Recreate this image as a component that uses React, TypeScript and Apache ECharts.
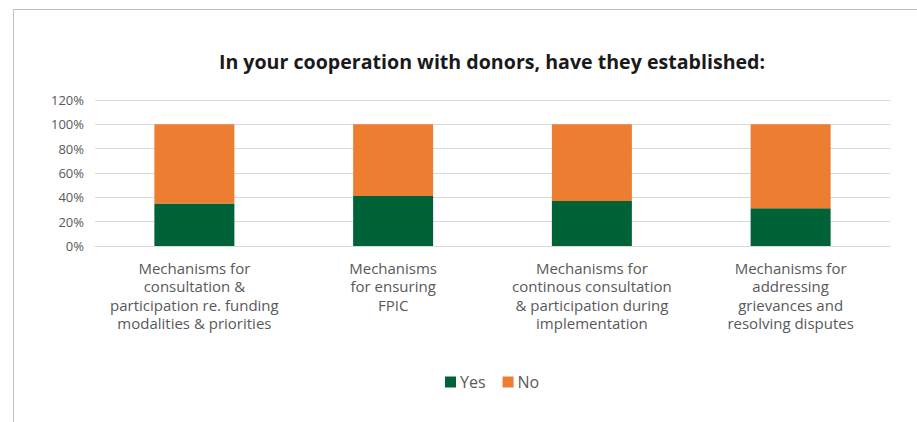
import React, { useEffect, useRef } from "react";
import * as echarts from "echarts";

const categories = [
  "Mechanisms for\nconsultation &\nparticipation re. funding\nmodalities & priorities",
  "Mechanisms\nfor ensuring\nFPIC",
  "Mechanisms for\ncontinous consultation\n& participation during\nimplementation",
  "Mechanisms for\naddressing\ngrievances and\nresolving disputes",
];
const yesValues = [35, 41, 37, 31];
const noValues = [65, 59, 63, 69];
const titleText = "In your cooperation with donors, have they established:";

const FONT = "'Open Sans', 'Noto Sans', sans-serif";

export default function App() {
  const ref = useRef<HTMLDivElement>(null);
  useEffect(() => {
    if (!ref.current) return;
    const chart = echarts.init(ref.current, undefined, { renderer: "svg" });
    chart.setOption({
      animation: false,
      backgroundColor: "#ffffff",
      textStyle: { fontFamily: FONT },
      graphic: [
        {
          type: "rect",
          shape: { x: 13.5, y: 9.5, width: 1200, height: 800 },
          style: { fill: "none", stroke: "#bfbfbf", lineWidth: 1 },
          silent: true,
          z: -10,
        },
        {
          type: "text",
          x: 492,
          y: 61,
          style: {
            text: titleText,
            fontFamily: FONT,
            fontSize: 19.6,
            fontWeight: "bold",
            fill: "#1a1a1a",
            textAlign: "center",
            textVerticalAlign: "middle",
          },
        },
      ],
      legend: {
        data: ["Yes", "No"],
        top: 374,
        left: 445,
        padding: 0,
        icon: "rect",
        itemWidth: 11,
        itemHeight: 11,
        itemGap: 17,
        textStyle: { color: "#595959", fontSize: 16, fontFamily: FONT, padding: [0, 0, 0, -1] },
      },
      grid: { left: 95, right: 27, top: 100, height: 146, containLabel: false },
      xAxis: {
        type: "category",
        data: categories,
        axisLine: { show: true, lineStyle: { color: "#d9d9d9", width: 1 } },
        axisTick: { show: false },
        axisLabel: {
          color: "#595959",
          fontSize: 15,
          lineHeight: 18.3,
          margin: 13,
          interval: 0,
          fontFamily: FONT,
        },
      },
      yAxis: {
        type: "value",
        min: 0,
        max: 120,
        interval: 20,
        axisLine: { show: false },
        axisTick: { show: false },
        splitLine: { lineStyle: { color: "#d9d9d9", width: 1 } },
        axisLabel: {
          formatter: "{value}%",
          color: "#595959",
          fontSize: 13,
          margin: 11,
          fontFamily: FONT,
        },
      },
      series: [
        {
          name: "Yes",
          type: "bar",
          stack: "total",
          data: yesValues,
          barWidth: 80,
          itemStyle: { color: "#006338" },
        },
        {
          name: "No",
          type: "bar",
          stack: "total",
          data: noValues,
          barWidth: 80,
          itemStyle: { color: "#ED7D31" },
        },
      ],
    });
    return () => chart.dispose();
  }, []);
  return (
    <div
      ref={ref}
      style={{ position: "fixed", left: 0, top: 0, width: 917, height: 422 }}
    />
  );
}
